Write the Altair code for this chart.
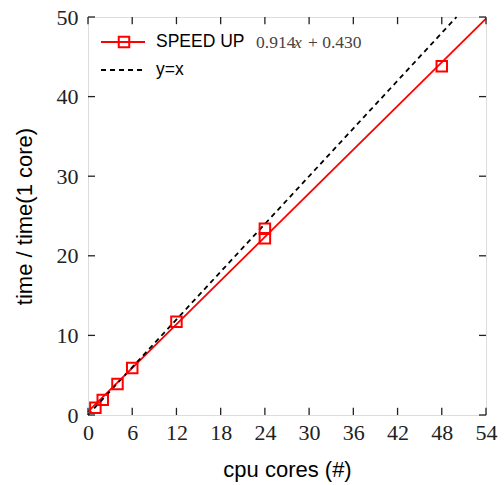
import altair as alt
import pandas as pd

# data
cores = [1, 2, 4, 6, 12, 24, 24, 48]
speedup = [0.9, 1.9, 3.9, 5.9, 11.7, 22.2, 23.4, 43.8]
fit_x = [0, 54]
fit_y = [0.43, 49.79]
ident_x = [0, 50]
ident_y = [0, 50]
x_ticks = [0, 6, 12, 18, 24, 30, 36, 42, 48, 54]
y_ticks = [0, 10, 20, 30, 40, 50]

pts = pd.DataFrame({"x": cores, "y": speedup})
fit = pd.DataFrame({"x": fit_x, "y": fit_y})
ident = pd.DataFrame({"x": ident_x, "y": ident_y})

RED = "#ff0000"
xs = alt.Scale(domain=[0, 54], nice=False, zero=False)
ys = alt.Scale(domain=[0, 50], nice=False, zero=False)

xax = alt.Axis(values=x_ticks, title="cpu cores (#)", grid=False, domain=False, ticks=False,
               labelFlush=False, labelOverlap=False,
               labelFont="Liberation Serif", labelFontSize=22, labelColor="#222",
               labelPadding=7, titleFont="Liberation Sans", titleFontSize=22,
               titleFontWeight="normal", titleColor="#000", titlePadding=16)
yax = alt.Axis(values=y_ticks, title="time / time(1 core)", grid=False, domain=False, ticks=False,
               labelFlush=False, labelOverlap=False,
               labelFont="Liberation Serif", labelFontSize=22, labelColor="#222",
               labelPadding=10, titleFont="Liberation Sans", titleFontSize=22,
               titleFontWeight="normal", titleColor="#000", titlePadding=20)

base_x = alt.X("x:Q", scale=xs, axis=xax)
base_y = alt.Y("y:Q", scale=ys, axis=yax)

fit_line = alt.Chart(fit).mark_line(color=RED, strokeWidth=1.8).encode(x=base_x, y=base_y)
ident_line = alt.Chart(ident).mark_line(color="black", strokeWidth=1.8, strokeDash=[5, 4]).encode(
    x=alt.X("x:Q", scale=xs), y=alt.Y("y:Q", scale=ys))
points = alt.Chart(pts).mark_point(shape="square", size=110, color=RED, filled=False,
                                   strokeWidth=2, opacity=1).encode(
    x=alt.X("x:Q", scale=xs), y=alt.Y("y:Q", scale=ys))

# inward ticks
tx = pd.DataFrame({"x": x_ticks})
ty = pd.DataFrame({"y": y_ticks})
tick_style = dict(color="#222", strokeWidth=1.3)
bot = alt.Chart(tx).mark_rule(**tick_style).encode(
    x=alt.X("x:Q", scale=xs), y=alt.datum(0), y2=alt.datum(0.9))
top = alt.Chart(tx).mark_rule(**tick_style).encode(
    x=alt.X("x:Q", scale=xs), y=alt.datum(50), y2=alt.datum(49.1))
left = alt.Chart(ty).mark_rule(**tick_style).encode(
    y=alt.Y("y:Q", scale=ys), x=alt.datum(0), x2=alt.datum(0.95))
right = alt.Chart(ty).mark_rule(**tick_style).encode(
    y=alt.Y("y:Q", scale=ys), x=alt.datum(54), x2=alt.datum(53.05))

# legend (pixel space)
one = pd.DataFrame({"a": [0]})
leg_red = alt.Chart(one).mark_rule(color=RED, strokeWidth=1.8).encode(
    x=alt.value(13), x2=alt.value(57), y=alt.value(25))
leg_sq = alt.Chart(one).mark_point(shape="square", size=110, color=RED, filled=False,
                                   strokeWidth=2, opacity=1).encode(x=alt.value(36), y=alt.value(25))
leg_dash = alt.Chart(one).mark_rule(color="black", strokeWidth=1.8, strokeDash=[5, 4]).encode(
    x=alt.value(13), x2=alt.value(57), y=alt.value(53))
t1 = alt.Chart(one).mark_text(text="SPEED UP", font="Liberation Sans", fontSize=17.5, align="left",
                              baseline="middle", color="#000").encode(x=alt.value(68), y=alt.value(25))
t2 = alt.Chart(one).mark_text(text="0.914", font="Liberation Serif", fontSize=17.5, align="left",
                              baseline="middle", color="#444").encode(x=alt.value(168), y=alt.value(26))
t3 = alt.Chart(one).mark_text(text="x", font="Liberation Serif", fontStyle="italic", fontSize=17.5,
                              align="left", baseline="middle", color="#444").encode(
    x=alt.value(206), y=alt.value(26))
t4 = alt.Chart(one).mark_text(text="+ 0.430", font="Liberation Serif", fontSize=17.5, align="left",
                              baseline="middle", color="#444").encode(x=alt.value(220), y=alt.value(26))
t5 = alt.Chart(one).mark_text(text="y=x", font="Liberation Sans", fontSize=17.5, align="left",
                              baseline="middle", color="#000").encode(x=alt.value(68), y=alt.value(53))

chart = alt.layer(
    fit_line, ident_line, points, bot, top, left, right,
    leg_red, leg_sq, leg_dash, t1, t2, t3, t4, t5
).properties(
    width=398, height=398,
    autosize=alt.AutoSizeParams(type="none"),
    padding={"left": 88, "top": 17, "right": 18, "bottom": 70},
).configure_view(stroke="#222", strokeWidth=1.5).configure(background="white")

chart.save("out.html", embed_options={"renderer": "svg", "actions": False})
